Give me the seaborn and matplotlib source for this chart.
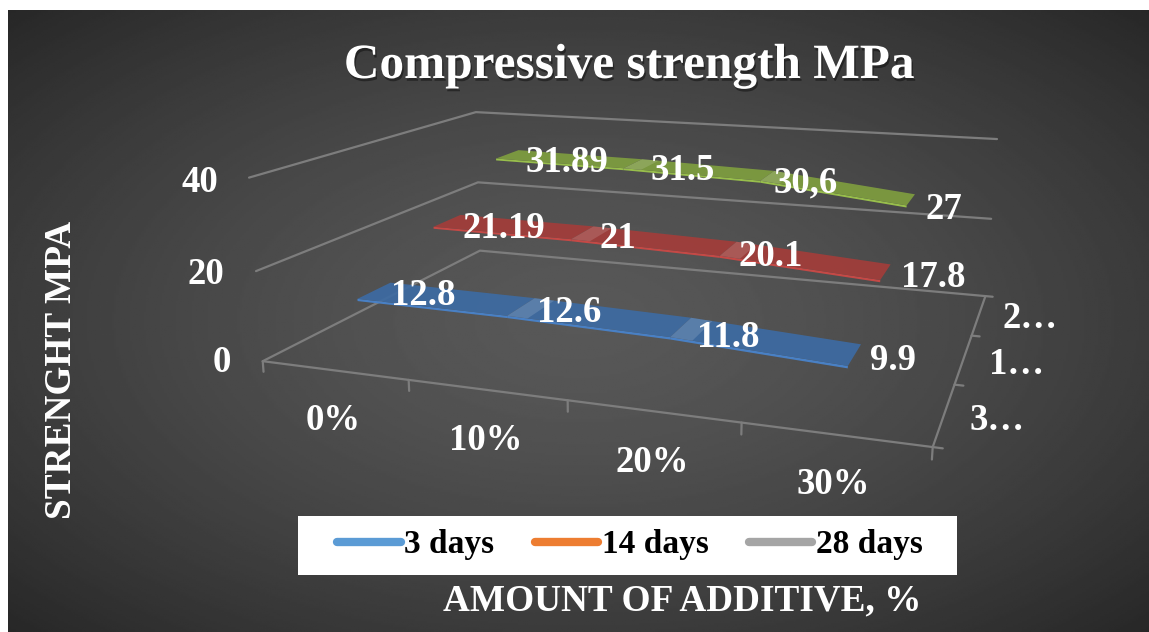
import numpy as np
import matplotlib
matplotlib.use('Agg')
import matplotlib.pyplot as plt
import matplotlib.patheffects as pe
import seaborn as sns
from mpl_toolkits.mplot3d import proj3d
from mpl_toolkits.mplot3d.art3d import Poly3DCollection

# Chart values
additive = ['0%', '10%', '20%', '30%']
series_names = ['3 days', '14 days', '28 days']
depth_labels = ['3…', '1…', '2…']
z_ticks = [0, 20, 40]
days_3 = [12.8, 12.6, 11.8, 9.9]
days_14 = [21.19, 21.0, 20.1, 17.8]
days_28 = [31.89, 31.5, 30.6, 27.0]
labels_3 = ['12.8', '12.6', '11.8', '9.9']
labels_14 = ['21.19', '21', '20.1', '17.8']
labels_28 = ['31.89', '31.5', '30,6', '27']
ribbon_colors = ['#3d6ba3', '#a33d3a', '#7f9e3f']
legend_colors = ['#5b9bd5', '#ed7d31', '#a5a5a5']

W, H = 1149, 632

sns.set_theme(style='dark')
plt.rcParams['font.family'] = ['Liberation Serif', 'DejaVu Serif']
plt.rcParams['font.weight'] = 'bold'

fig = plt.figure(figsize=(W / 100, H / 100), dpi=100, facecolor='white')

# dark radial background
bg = fig.add_axes([8 / W, 0, (W - 8) / W, (H - 10) / H])
yy, xx = np.mgrid[-1:1:300j, -1:1:500j]
r = np.sqrt(xx ** 2 + yy ** 2) / np.sqrt(2)
bg.imshow(0.345 - 0.19 * r ** 1.5, cmap='gray', vmin=0, vmax=1, aspect='auto')
bg.set_axis_off()

ax = fig.add_axes([0, 0, 1, 1], projection='3d', proj_type='ortho')
ax.apply_aspect = lambda position=None: None
ax.patch.set_alpha(0)
ax.set_axis_off()
ax.computed_zorder = False


# camera fitted to the corners of the 3D box (data point -> pixel)
def fit_camera():
    world = [(0, 0, 0), (1, 0, 0), (2, 0, 0), (3, 0, 0), (4, 0, 0), (4, 1, 0), (4, 2, 0), (4, 3, 0), (0, 3, 0),
             (0, 0, 20), (0, 0, 40), (0, 3, 20), (0, 3, 40), (4, 3, 20), (4, 3, 40)]
    pixel = [(263, 361), (408, 380), (568, 400), (741, 423), (933, 447), (955, 384), (972, 336), (985, 296), (480, 251),
             (256, 271), (249, 178), (478, 182), (476, 112), (991, 219), (997, 139)]
    pts = ax.transData.inverted().transform([(px, H - py) for px, py in pixel])
    A = []
    for (X, Y, Z), (u, v) in zip(world, pts):
        A.append([X, Y, Z, 1, 0, 0, 0, 0, -u * X, -u * Y, -u * Z, -u])
        A.append([0, 0, 0, 0, X, Y, Z, 1, -v * X, -v * Y, -v * Z, -v])
    p = np.linalg.svd(np.array(A))[2][-1].reshape(3, 4)
    return np.array([p[0], p[1], [0, 0.001, 0, 0.002], p[2]])


M = fit_camera()
ax.get_proj = lambda: M

grid_c = '#7d7d7d'
# walls and floor
for z in z_ticks:
    ax.plot([0, 0, 4], [0, 3, 3], [z, z, z], color=grid_c, lw=1.6, zorder=1)
ax.plot([0, 4], [0, 0], [0, 0], color=grid_c, lw=1.6, zorder=1)
ax.plot([4, 4], [0, 3], [0, 0], color=grid_c, lw=1.6, zorder=1)
# ticks
for i in range(5):
    ax.plot([i, i], [0, 0], [0, -2.4], color=grid_c, lw=1.6, zorder=1)
for j in range(4):
    ax.plot([4, 4.05], [j, j], [0, 0], color=grid_c, lw=1.6, zorder=1)

xs = np.arange(4) + 0.5
series = [days_3, days_14, days_28]
all_labels = [labels_3, labels_14, labels_28]
for k, vals in enumerate(series):
    y0, y1 = k + 0.3, k + 0.7
    col = np.array(matplotlib.colors.to_rgb(ribbon_colors[k]))
    for i in range(3):
        top = [(xs[i], y0, vals[i]), (xs[i + 1], y0, vals[i + 1]), (xs[i + 1], y1, vals[i + 1]), (xs[i], y1, vals[i])]
        front = [(xs[i], y0, vals[i]), (xs[i + 1], y0, vals[i + 1]), (xs[i + 1], y0, vals[i + 1] - 0.5), (xs[i], y0, vals[i] - 0.5)]
        ax.add_collection3d(Poly3DCollection([front], facecolor=np.clip(col * 1.2, 0, 1), edgecolor='none', zorder=5))
        ax.add_collection3d(Poly3DCollection([top], facecolor=col, edgecolor='none', alpha=0.92, zorder=6))
    # lighter wedge at the folds
    for i in range(1, 3):
        z2 = vals[i] + (vals[i + 1] - vals[i]) * 0.13
        wedge = [(xs[i], y0, vals[i]), (xs[i] + 0.13, y0, z2), (xs[i] + 0.13, y1, z2), (xs[i], y1, vals[i])]
        ax.add_collection3d(Poly3DCollection([wedge], facecolor='white', edgecolor='none', alpha=0.14, zorder=7))

# data labels, nudged off the ribbons along the axes
label_dx = [[0.34, 0.31, 0.28, 0.21], [0.43, 0.25, 0.28, 0.29], [0.48, 0.38, 0.27, 0.22]]
label_dz = [[0, -0.2, -1.1, -0.4], [-0.7, -0.7, -1.1, -0.4], [-1.1, -0.9, -1.1, -1.8]]
for k, vals in enumerate(series):
    for i, v in enumerate(vals):
        u, w, _ = proj3d.proj_transform(xs[i] + label_dx[k][i], k + 0.5, v + label_dz[k][i], M)
        ax.text2D(u, w, all_labels[k][i], transform=ax.transData, color='white', fontsize=26.5, ha='center', va='center', zorder=10)

# category labels
for label, px, py in zip(additive, [333, 486, 652, 833], [420, 440, 462, 485]):
    fig.text(px / W, 1 - py / H, label, color='white', fontsize=26.5, ha='center', va='center')
for label, px, py in zip(depth_labels, [997, 1017, 1030], [420, 364, 319]):
    fig.text(px / W, 1 - py / H, label, color='white', fontsize=26.5, ha='center', va='center')
for label, px, py in zip(z_ticks, [222, 206, 200], [363, 274, 182]):
    fig.text(px / W, 1 - py / H, str(label), color='white', fontsize=26.5, ha='center', va='center')

shadow = [pe.withSimplePatchShadow(offset=(1, -2), shadow_rgbFace='black', alpha=0.4)]
fig.text(629 / W, 1 - 66 / H, 'Compressive strength MPa', color='white', fontsize=35.5, ha='center', va='center', path_effects=shadow)
fig.text(682 / W, 1 - 601 / H, 'AMOUNT OF ADDITIVE, %', color='white', fontsize=26.8, ha='center', va='center')
fig.text(62 / W, 1 - 370 / H, 'STRENGHT MPA', color='white', fontsize=26.8, ha='center', va='center', rotation=90)

# legend on a white box
fig.add_artist(plt.Rectangle((298 / W, 1 - 575 / H), 659 / W, 59 / H, transform=fig.transFigure, facecolor='white', edgecolor='none', zorder=4))
palette = sns.color_palette(legend_colors)
handles = [plt.Line2D([], [], color=c, lw=6, solid_capstyle='round') for c in palette]
leg = fig.legend(handles, series_names, ncols=3, loc='center', bbox_to_anchor=(630 / W, 1 - 545 / H), frameon=False, fontsize=24,
                 handlelength=1.9, handletextpad=0.1, columnspacing=1.22, labelcolor='black')
leg.set_zorder(6)

fig.savefig('out.png', dpi=100)
